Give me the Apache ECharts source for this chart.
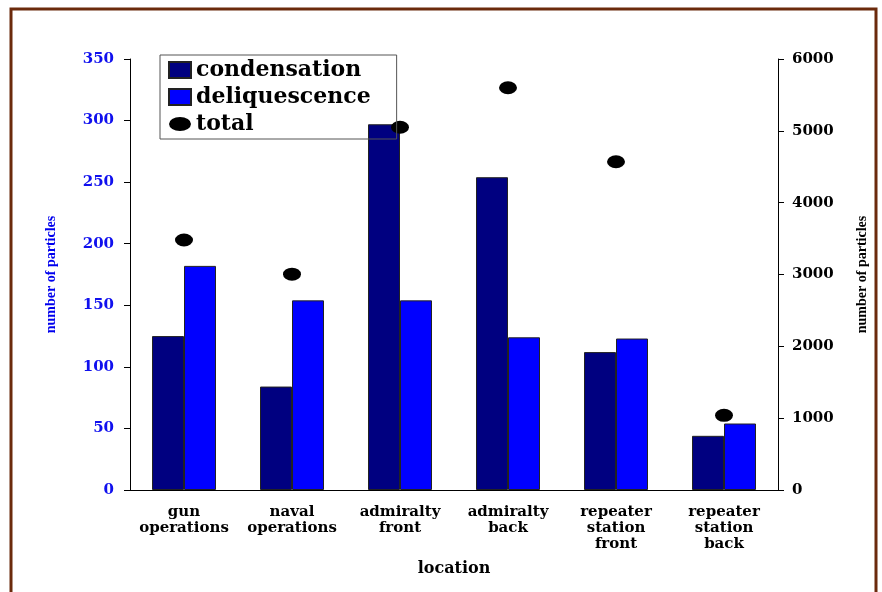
<!DOCTYPE html>
<html>
<head>
<meta charset="utf-8">
<script src="https://cdn.jsdelivr.net/npm/echarts@6/dist/echarts.min.js"></script>
<style>
  html, body { margin: 0; padding: 0; background: #fff; }
  #chart { width: 882px; height: 592px; }
</style>
</head>
<body>
<div id="chart"></div>
<script>
  // values
  var locations = ['gun\noperations', 'naval\noperations', 'admiralty\nfront',
                   'admiralty\nback', 'repeater\nstation\nfront', 'repeater\nstation\nback'];
  var condensation = [125, 84, 297, 254, 112, 44];
  var deliquescence = [182, 154, 154, 124, 123, 54];
  var total = [3480, 3005, 5050, 5600, 4570, 1040];

  var wide = '"DejaVu Serif", serif';
  var narrow = '"Liberation Serif", serif';

  var chart = echarts.init(document.getElementById('chart'));
  chart.setOption({
    animation: false,
    backgroundColor: '#fff',
    graphic: [{
      type: 'rect',
      shape: { x: 11, y: 9, width: 865, height: 600 },
      style: { fill: 'none', stroke: '#6b2a0c', lineWidth: 3 }
    }],
    grid: { left: 130, right: 104, top: 59, bottom: 102 },
    legend: {
      orient: 'vertical',
      left: 160,
      top: 55,
      padding: [4, 26, 4, 8],
      itemGap: 5,
      itemWidth: 22,
      itemHeight: 16,
      itemTextGap: 9,
      borderColor: '#555',
      borderWidth: 1,
      textStyle: { fontFamily: wide, fontWeight: 'bold', fontSize: 22, color: '#000' },
      data: [
        { name: 'condensation', icon: 'rect' },
        { name: 'deliquescence', icon: 'rect' },
        { name: 'total', icon: 'path://M0,7a11,7 0 1,0 22,0a11,7 0 1,0 -22,0z' }
      ]
    },
    xAxis: {
      type: 'category',
      data: locations,
      name: 'location',
      nameLocation: 'middle',
      nameGap: 71,
      nameTextStyle: { fontFamily: wide, fontWeight: 'bold', fontSize: 16, color: '#000' },
      axisLine: { lineStyle: { color: '#000' } },
      axisTick: { length: 5, lineStyle: { color: '#000' } },
      axisLabel: {
        interval: 0, margin: 14, lineHeight: 16,
        fontFamily: wide, fontWeight: 'bold', fontSize: 15, color: '#000'
      }
    },
    yAxis: [{
      type: 'value',
      min: 0, max: 350, interval: 50,
      name: 'number of particles',
      nameLocation: 'middle',
      nameRotate: 90,
      nameGap: 72,
      nameTextStyle: { fontFamily: narrow, fontWeight: 'bold', fontSize: 14, color: '#0000ee' },
      axisLine: { show: true, lineStyle: { color: '#000' } },
      axisTick: { show: true, length: 6, lineStyle: { color: '#000' } },
      splitLine: { show: false },
      axisLabel: { margin: 16, fontFamily: wide, fontWeight: 'bold', fontSize: 15, color: '#1010ee' }
    }, {
      type: 'value',
      min: 0, max: 6000, interval: 1000,
      name: 'number of particles',
      nameLocation: 'middle',
      nameRotate: 90,
      nameGap: 77,
      nameTextStyle: { fontFamily: narrow, fontWeight: 'bold', fontSize: 14, color: '#000' },
      axisLine: { show: true, lineStyle: { color: '#000' } },
      axisTick: { show: true, length: 6, lineStyle: { color: '#000' } },
      splitLine: { show: false },
      axisLabel: {
        margin: 14, fontFamily: wide, fontWeight: 'bold', fontSize: 15, color: '#000',
        formatter: function (v) { return String(v); }
      }
    }],
    series: [{
      name: 'condensation',
      type: 'bar',
      data: condensation,
      barWidth: 32,
      barGap: '0%',
      itemStyle: { color: '#000080', borderColor: '#222', borderWidth: 1 }
    }, {
      name: 'deliquescence',
      type: 'bar',
      data: deliquescence,
      barWidth: 32,
      itemStyle: { color: '#0000ff', borderColor: '#222', borderWidth: 1 }
    }, {
      name: 'total',
      type: 'scatter',
      yAxisIndex: 1,
      data: total,
      symbol: 'circle',
      symbolSize: [18, 13],
      itemStyle: { color: '#000', opacity: 1 }
    }]
  });
</script>
</body>
</html>
